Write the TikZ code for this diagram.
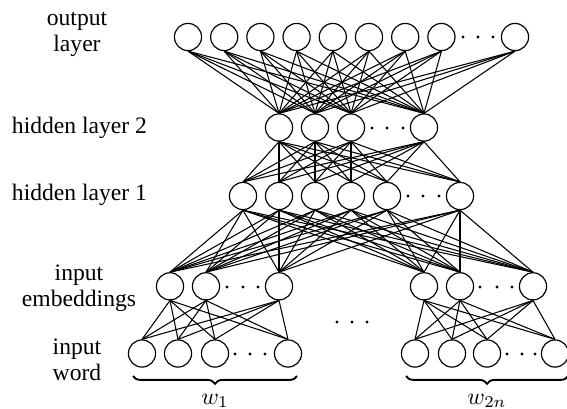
\documentclass[tikz,border=0pt]{standalone}
\usepackage{fontspec}
\setmainfont{Liberation Serif}
\usetikzlibrary{decorations.pathreplacing}
\begin{document}
\begin{tikzpicture}[x=0.4237pt,y=-0.4237pt,
  neuron/.style={circle,draw,line width=0.5pt,minimum size=11.5pt,inner sep=0pt},
  conn/.style={line width=0.45pt},
  lbl/.style={align=center,font=\fontsize{10}{11}\selectfont,inner sep=0pt},
  dotmark/.style={fill=black,draw=none},
  brc/.style={decorate,decoration={brace,mirror,amplitude=3.3pt},line width=0.8pt}]
\useasboundingbox (0,0) rectangle (567,408);
% output layer
\foreach \x [count=\i] in {188,224.2,260.4,296.6,332.8,369,405.2,441.4,515}
  \node[neuron] (o\i) at (\x,37) {};
% hidden layer 2
\foreach \x [count=\i] in {279,315,351,424}
  \node[neuron] (a\i) at (\x,127.5) {};
% hidden layer 1
\foreach \x [count=\i] in {243,279,315,351,387,460}
  \node[neuron] (b\i) at (\x,196) {};
% embeddings
\foreach \x [count=\i] in {170,206,279,424,460,533}
  \node[neuron] (e\i) at (\x,286.3) {};
% input words
\foreach \x [count=\i] in {142,178,215,288,415,452,487,555}
  \node[neuron] (w\i) at (\x,353.5) {};
% connections
\foreach \i in {1,...,9} \foreach \j in {1,...,4}
  \draw[conn] (o\i.south) -- (a\j.north);
\foreach \i in {1,...,4} \foreach \j in {1,...,6}
  \draw[conn] (a\i.south) -- (b\j.north);
\foreach \i in {1,...,6} \foreach \j in {1,...,6}
  \draw[conn] (b\i.south) -- (e\j.north);
\foreach \i in {1,2,3} \foreach \j in {1,...,4}
  \draw[conn] (e\i.south) -- (w\j.north);
\foreach \i in {4,5,6} \foreach \j in {5,...,8}
  \draw[conn] (e\i.south) -- (w\j.north);
% dots
\foreach \x/\y in {463/37,478/37,493/37,
  372/128,387/128,403/128,
  408/196,423/196,439/196,
  227/287,243/287,258/287,
  480/287,497/287,512/287,
  235/354,250/354,265/354,
  507/354,522/354,535/354,
  337/322,352/322,367/322}
  \fill[dotmark] (\x,\y) circle (0.72pt);
% braces
\coordinate (bl1) at (133,376);
\coordinate (bl2) at (297,376);
\coordinate (br1) at (406,376);
\coordinate (br2) at (568,376);
\draw[brc] (bl1) -- (bl2);
\draw[brc] (br1) -- (br2);
\node (wl) at (215,401) {$w_1$};
\node (wr) at (487,401) {$w_{2n}$};
% labels
\node[lbl] (l1) at (77,34) {output\\layer};
\node[lbl] (l2) at (79.5,128) {hidden layer 2};
\node[lbl] (l3) at (79.5,195) {hidden layer 1};
\node[lbl] (l4) at (79,288) {input\\embeddings};
\node[lbl] (l5) at (77,360) {input\\word};
\end{tikzpicture}
\end{document}
